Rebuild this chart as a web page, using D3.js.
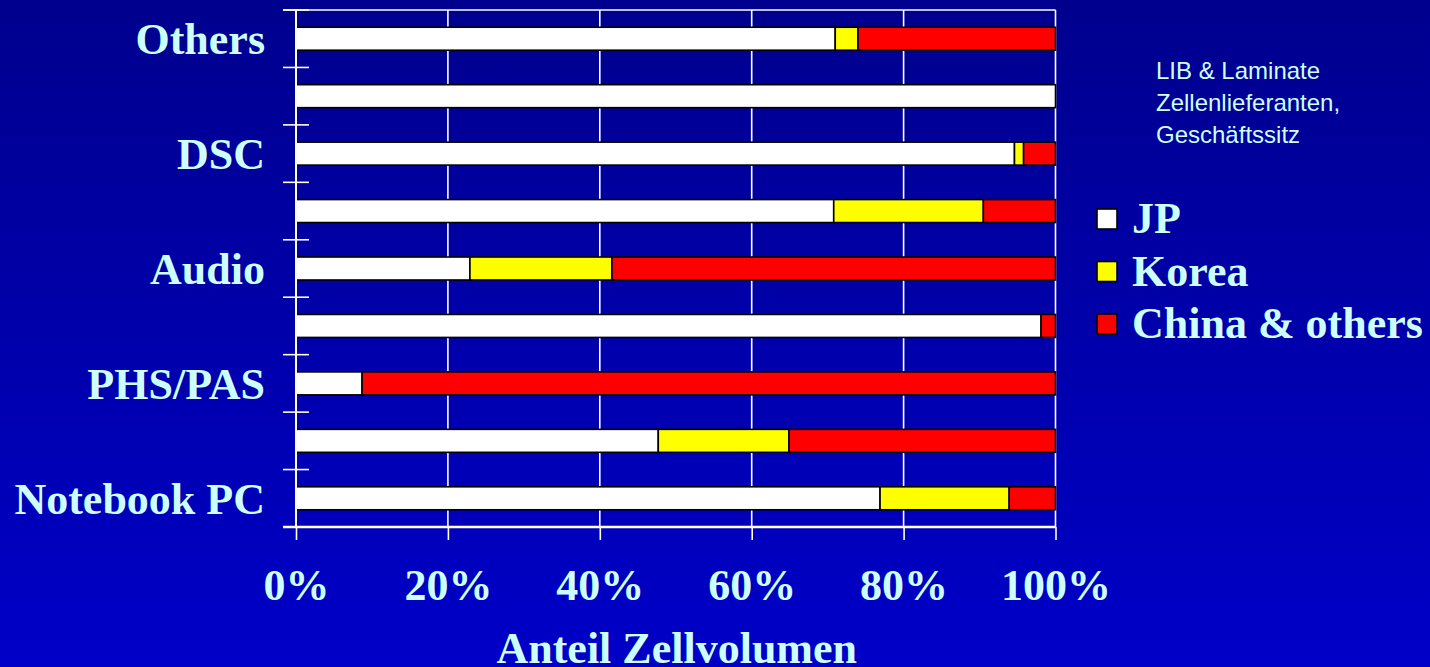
<!DOCTYPE html>
<html>
<head>
<meta charset="utf-8">
<script src="https://cdn.jsdelivr.net/npm/d3@7/dist/d3.min.js"></script>
<style>
  html, body { margin: 0; padding: 0; background: #0000a8; }
  svg { display: block; }
</style>
</head>
<body>
<svg id="chart" width="1430" height="667"></svg>
<script>
// Application rows, top to bottom (every second row carries no label)
const categories = ["Others", "", "DSC", "", "Audio", "", "PHS/PAS", "", "Notebook PC"];
// Share of cell volume by supplier headquarters, in percent
const jp    = [71.0, 100.0, 94.6, 70.8, 22.9, 98.1,  8.7, 47.7, 76.9];
const korea = [ 3.0,   0.0,  1.2, 19.7, 18.7,  0.0,  0.0, 17.2, 17.0];
const china = [26.0,   0.0,  4.2,  9.5, 58.4,  1.9, 91.3, 35.1,  6.1];
const seriesNames = ["JP", "Korea", "China & others"];
const seriesColors = ["#ffffff", "#ffff00", "#ff0000"];
const xTicks = [0, 20, 40, 60, 80, 100];
const subtitleLines = ["LIB & Laminate", "Zellenlieferanten,", "Geschäftssitz"];
const axisTitle = "Anteil Zellvolumen";

const svg = d3.select("#chart");
const W = 1430, H = 667;
const textColor = "#ccffff";
const serif = "'Liberation Serif', 'Times New Roman', serif";
const sans = "'Liberation Sans', Arial, sans-serif";
const bigFont = 44;

// background gradient
const defs = svg.append("defs");
const grad = defs.append("linearGradient").attr("id", "bg")
  .attr("x1", 0).attr("y1", 0).attr("x2", 0).attr("y2", 1);
grad.append("stop").attr("offset", "0%").attr("stop-color", "#00008e");
grad.append("stop").attr("offset", "100%").attr("stop-color", "#0000c8");
svg.append("rect").attr("width", W).attr("height", H).attr("fill", "url(#bg)");

const plot = { left: 296, right: 1055.5, top: 10, bottom: 527 };

const x = d3.scaleLinear().domain([0, 100]).range([plot.left, plot.right]);
const y = d3.scaleBand()
  .domain(d3.range(categories.length))
  .range([plot.top, plot.bottom])
  .paddingInner(0.6)
  .paddingOuter(0.3);

// vertical gridlines
svg.append("g").selectAll("line")
  .data(xTicks.filter(t => t > 0))
  .join("line")
  .attr("x1", d => x(d)).attr("x2", d => x(d))
  .attr("y1", plot.top).attr("y2", plot.bottom)
  .attr("stroke", "#ffffff").attr("stroke-width", 1.6);

// top border of the plot area
svg.append("line")
  .attr("x1", plot.left - 13).attr("x2", plot.right)
  .attr("y1", plot.top).attr("y2", plot.top)
  .attr("stroke", "#ffffff").attr("stroke-width", 1.6);

// stacked bars
const rows = categories.map((c, i) => ({ i, JP: jp[i], Korea: korea[i], "China & others": china[i] }));
const stack = d3.stack().keys(seriesNames)(rows);

svg.append("g").selectAll("g")
  .data(stack)
  .join("g")
  .attr("fill", (d, k) => seriesColors[k])
  .selectAll("rect")
  .data(d => d.filter(s => s[1] - s[0] > 0))
  .join("rect")
  .attr("x", d => x(d[0]))
  .attr("width", d => x(d[1]) - x(d[0]))
  .attr("y", d => y(d.data.i))
  .attr("height", y.bandwidth())
  .attr("stroke", "#000000")
  .attr("stroke-width", 1.6);

// y axis line and boundary ticks
const yAxis = svg.append("g");
yAxis.append("line")
  .attr("x1", plot.left).attr("x2", plot.left)
  .attr("y1", plot.top).attr("y2", plot.bottom)
  .attr("stroke", "#ffffff").attr("stroke-width", 2);
const boundaries = d3.range(categories.length + 1).map(i => plot.top + i * y.step());
yAxis.selectAll("line.tick")
  .data(boundaries)
  .join("line")
  .attr("class", "tick")
  .attr("x1", plot.left - 13).attr("x2", plot.left + 13)
  .attr("y1", d => d).attr("y2", d => d)
  .attr("stroke", "#ffffff").attr("stroke-width", 1.6);

// category labels
svg.append("g").selectAll("text")
  .data(categories.map((c, i) => ({ c, i })).filter(d => d.c !== ""))
  .join("text")
  .attr("x", 265)
  .attr("y", d => y(d.i) + y.bandwidth() / 2)
  .attr("dy", "0.35em")
  .attr("text-anchor", "end")
  .attr("font-family", serif)
  .attr("font-weight", "bold")
  .attr("font-size", bigFont)
  .attr("fill", textColor)
  .text(d => d.c);

// x axis
const xAxis = svg.append("g")
  .attr("transform", `translate(0,${plot.bottom})`)
  .call(d3.axisBottom(x).tickValues(xTicks).tickSize(13).tickPadding(29).tickFormat(d => d + "%"));
xAxis.select(".domain")
  .attr("stroke", "#ffffff").attr("stroke-width", 2.5)
  .attr("d", `M${plot.left - 13},0H${plot.right}`);
xAxis.selectAll(".tick line").attr("stroke", "#ffffff").attr("stroke-width", 1.6);
xAxis.selectAll(".tick text")
  .attr("font-family", serif)
  .attr("font-weight", "bold")
  .attr("font-size", bigFont)
  .attr("fill", textColor);

// axis title
svg.append("text")
  .attr("x", (plot.left + plot.right) / 2 + 1)
  .attr("y", 663)
  .attr("text-anchor", "middle")
  .attr("font-family", serif)
  .attr("font-weight", "bold")
  .attr("font-size", bigFont)
  .attr("fill", textColor)
  .text(axisTitle);

// subtitle
svg.append("g").selectAll("text")
  .data(subtitleLines)
  .join("text")
  .attr("x", 1156)
  .attr("y", (d, i) => 79 + i * 32)
  .attr("font-family", sans)
  .attr("font-size", 24)
  .attr("fill", textColor)
  .text(d => d);

// legend
const legend = svg.append("g").selectAll("g")
  .data(seriesNames)
  .join("g")
  .attr("transform", (d, i) => `translate(1097,${209 + i * 52.5})`);
legend.append("rect")
  .attr("width", 20).attr("height", 20)
  .attr("fill", (d, i) => seriesColors[i])
  .attr("stroke", "#000000").attr("stroke-width", 1.6);
legend.append("text")
  .attr("x", 35).attr("y", 24)
  .attr("font-family", serif)
  .attr("font-weight", "bold")
  .attr("font-size", bigFont)
  .attr("fill", textColor)
  .text(d => d);
</script>
</body>
</html>
